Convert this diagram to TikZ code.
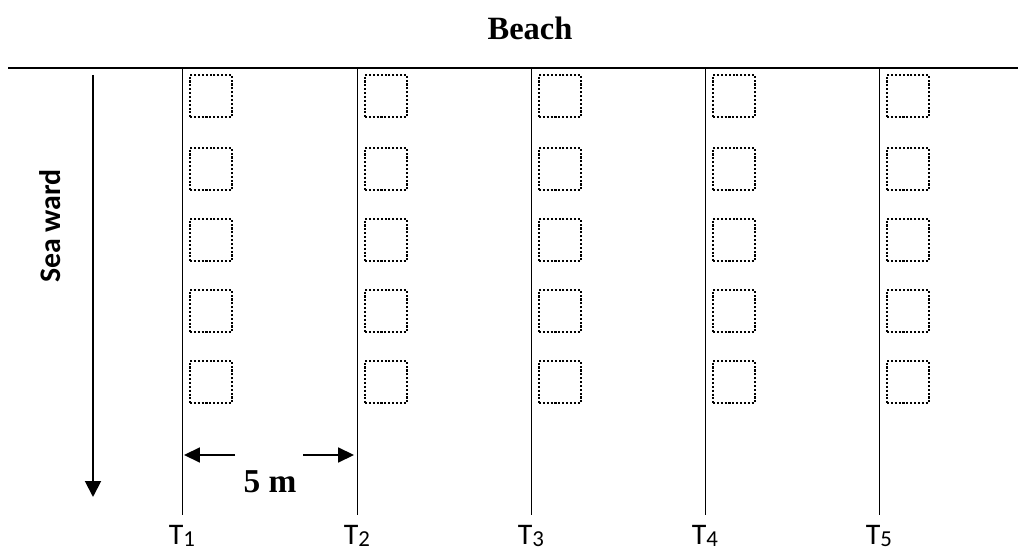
\documentclass[tikz,border=0pt]{standalone}
\usepackage{fontspec}
\setmainfont{Liberation Serif}
\newfontfamily\calibri{Carlito}
\usepackage{tikz}
\usetikzlibrary{arrows.meta}

\begin{document}
\begin{tikzpicture}[
  x=0.02cm, y=-0.02cm,
  plot/.style={draw, line width=1.3pt, dash pattern=on 1.2pt off 1pt, minimum size=0.84cm, inner sep=0pt},
  transect/.style={draw, line width=0.5pt},
  tlabel/.style={font=\calibri\fontsize{17}{19}\selectfont, inner sep=1pt},
  bigarrow/.style={line width=1.1pt, -{Triangle[length=9pt, width=9pt]}},
  gaparrow/.style={line width=0.9pt, -{Triangle[length=9pt, width=8.5pt]}}
]
\useasboundingbox (0,0) rectangle (1018,550);

% beach
\node[font=\bfseries\fontsize{18.5}{20}\selectfont] (beach) at (530,28) {Beach};
\coordinate (shoreL) at (8,68);
\coordinate (shoreR) at (1018,68);
\draw[line width=0.7pt] (shoreL) -- (shoreR);

% transects and their plots
\foreach \i/\x in {1/182, 2/357, 3/531, 4/705, 5/879} {
  \coordinate (top\i) at (\x,68);
  \node[tlabel, anchor=base] (T\i) at (\x,544) {T{\fontsize{13}{15}\selectfont\raisebox{-1.5pt}{\i}}};
  \draw[transect] (top\i) -- (\x,515);
  \foreach \j/\y in {1/96, 2/169, 3/240, 4/311, 5/382} {
    \node[plot] (q\i\j) at (\x+29,\y) {};
  }
}

% seaward direction
\coordinate (seaA) at (93,75);
\coordinate (seaB) at (93,497);
\draw[bigarrow] (seaA) -- (seaB);
\node[rotate=90, font=\calibri\bfseries\fontsize{17}{19}\selectfont] (sea) at (50,226) {Sea ward};

% spacing between transects
\node[font=\bfseries\fontsize{19}{21}\selectfont] (gap) at (270,482) {5 m};
\coordinate (gapL) at (235,455);
\coordinate (gapR) at (303,455);
\draw[gaparrow] (gapL) -- (184,455);
\draw[gaparrow] (gapR) -- (354,455);
\end{tikzpicture}
\end{document}
